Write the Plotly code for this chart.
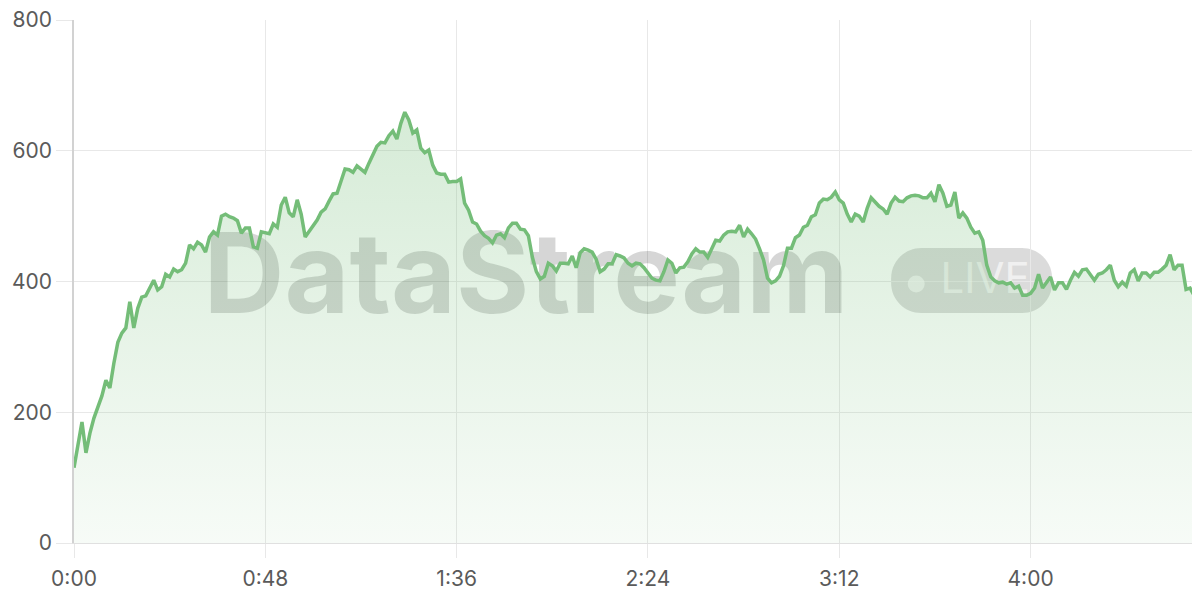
import plotly.graph_objects as go

# seconds since start, one reading per second
seconds = list(range(282))
values = [
    115, 153, 185, 138, 168, 191, 208, 225, 249, 237,
    275, 307, 321, 329, 369, 329, 359, 376, 378, 390,
    402, 387, 392, 411, 407, 419, 415, 418, 428, 456,
    450, 460, 456, 445, 468, 476, 471, 500, 503, 499,
    497, 493, 474, 482, 482, 453, 451, 476, 474, 473,
    488, 483, 517, 529, 505, 499, 525, 503, 468, 476,
    485, 494, 506, 511, 523, 534, 535, 555, 572, 571,
    567, 577, 572, 567, 581, 595, 607, 613, 612, 623,
    630, 618, 642, 659, 647, 627, 632, 604, 597, 601,
    578, 566, 564, 564, 552, 553, 553, 557, 520, 509,
    491, 488, 477, 470, 466, 459, 471, 473, 467, 482,
    489, 489, 480, 479, 470, 437, 415, 404, 408, 428,
    424, 416, 428, 428, 427, 439, 421, 444, 450, 448,
    445, 434, 415, 419, 427, 427, 441, 439, 436, 428,
    424, 428, 427, 421, 413, 405, 402, 401, 415, 433,
    428, 413, 421, 422, 430, 442, 450, 445, 445, 437,
    450, 463, 462, 471, 476, 477, 476, 486, 468, 480,
    473, 465, 450, 433, 405, 398, 401, 408, 424, 451,
    451, 467, 471, 483, 486, 499, 502, 520, 526, 525,
    529, 537, 525, 520, 503, 491, 503, 500, 491, 512,
    528, 522, 515, 511, 503, 520, 529, 523, 522, 528,
    531, 532, 531, 528, 528, 535, 522, 548, 535, 515,
    517, 537, 497, 505, 497, 483, 474, 476, 463, 425,
    407, 401, 398, 399, 396, 398, 390, 393, 379, 379,
    382, 390, 411, 390, 399, 407, 387, 398, 398, 388,
    402, 414, 408, 418, 419, 411, 402, 411, 413, 418,
    425, 402, 392, 399, 393, 413, 418, 401, 413, 413,
    407, 414, 414, 419, 425, 441, 418, 425, 425, 388,
    390, 379,
]

tick_secs = [0, 48, 96, 144, 192, 240]
tick_text = ["0:00", "0:48", "1:36", "2:24", "3:12", "4:00"]
y_ticks = [0, 200, 400, 600, 800]

line_color = "#74bd78"
grid_color = "#e8e8e8"

fig = go.Figure()

# watermark, drawn under the series
fig.add_trace(go.Scatter(
    x=[113.4], y=[394], mode="text", text=["DataStream"],
    textposition="middle center",
    textfont=dict(family="Inter", size=112, color="rgba(0,0,0,0.16)", weight=700),
    hoverinfo="skip", showlegend=False,
))
fig.add_trace(go.Scatter(
    x=[211.3], y=[396], mode="markers",
    marker=dict(size=17, color="rgba(255,255,255,0.6)", line=dict(width=0)),
    hoverinfo="skip", showlegend=False,
))
fig.add_trace(go.Scatter(
    x=[228.6], y=[398], mode="text", text=["LIVE"],
    textposition="middle center",
    textfont=dict(family="Inter", size=42, color="rgba(255,255,255,0.6)"),
    hoverinfo="skip", showlegend=False,
))

fig.add_trace(go.Scatter(
    x=seconds, y=values, mode="lines",
    line=dict(color=line_color, width=3.5),
    fill="tozeroy",
    fillgradient=dict(
        type="vertical",
        colorscale=[[0, "rgba(118,190,122,0.06)"], [1, "rgba(118,190,122,0.30)"]],
        start=0, stop=660,
    ),
    showlegend=False,
))

# rounded "LIVE" pill
k = 0.5523 * 30
pill = (
    f"M -50.5,-32.5 L 50.5,-32.5 C {50.5+k},-32.5 80.5,{-2.5-k} 80.5,-2.5 "
    f"L 80.5,2.5 C 80.5,{2.5+k} {50.5+k},32.5 50.5,32.5 "
    f"L -50.5,32.5 C {-50.5-k},32.5 -80.5,{2.5+k} -80.5,2.5 "
    f"L -80.5,-2.5 C -80.5,{-2.5-k} {-50.5-k},-32.5 -50.5,-32.5 Z"
)
fig.add_shape(
    type="path", path=pill, xref="x", yref="y",
    xsizemode="pixel", ysizemode="pixel", xanchor=225.2, yanchor=401.5,
    fillcolor="rgba(0,0,0,0.14)", line=dict(width=0), layer="below",
)

# margins allow for the page's 8px body offset
fig.update_layout(
    width=1200, height=600,
    margin=dict(l=66, r=10, t=12, b=65),
    plot_bgcolor="white", paper_bgcolor="white",
    font=dict(family="Inter", size=21, color="#5a5a5a"),
    xaxis=dict(
        range=[0, 282], tickvals=tick_secs, ticktext=tick_text,
        showgrid=True, gridcolor=grid_color, gridwidth=1,
        ticks="outside", ticklen=14, tickcolor=grid_color,
        ticklabelstandoff=3,
        zeroline=False, showline=True, linecolor="#e0e0e0",
        automargin=False, ticklabeloverflow="allow",
    ),
    yaxis=dict(
        range=[0, 800], tickvals=y_ticks,
        showgrid=True, gridcolor=grid_color, gridwidth=1,
        ticks="outside", ticklen=16, tickcolor=grid_color,
        zeroline=False, showline=True, linecolor="#d2d2d2", linewidth=1.5,
        automargin=False, ticklabeloverflow="allow",
    ),
)

fig.write_html("out.html")
